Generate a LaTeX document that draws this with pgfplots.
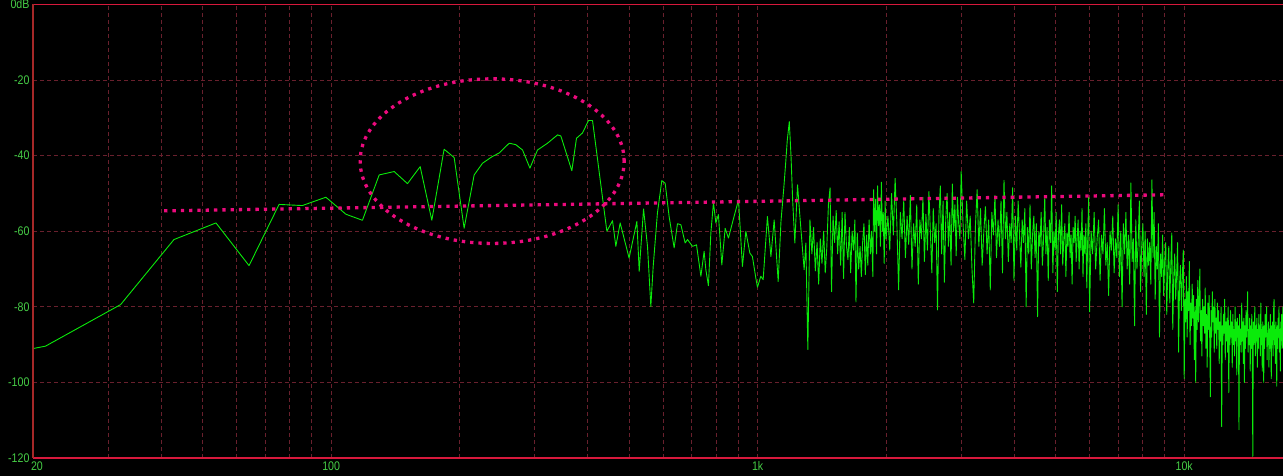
\documentclass[border=0pt]{standalone}
\usepackage{fontspec}
\setmainfont{Liberation Sans}[FakeStretch=0.85]
\usepackage{pgfplots}
\pgfplotsset{compat=1.18}
\definecolor{gridc}{RGB}{105,32,45}
\definecolor{framec}{RGB}{215,25,60}
\definecolor{leftc}{RGB}{165,40,40}
\definecolor{specg}{RGB}{10,235,10}
\definecolor{labg}{RGB}{70,205,70}
\definecolor{pinkc}{RGB}{235,10,125}
\begin{document}
\begin{tikzpicture}
\fill[black] (0,0) rectangle (1283pt,476pt);
\useasboundingbox (0,0) rectangle (1283pt,476pt);
\begin{axis}[
  at={(33pt,18pt)}, anchor=south west,
  scale only axis, width=1250pt, height=453.5pt,
  xmode=log, xmin=20, xmax=17050, ymin=-120, ymax=0,
  clip mode=individual,
  axis line style={draw=none},
  tick style={draw=none},
  xtick={20,100,1000,10000},
  xticklabels={\makebox[0pt][l]{\hspace{-2pt}20},100,1k,10k},
  minor xtick={30,40,50,60,70,80,90,200,300,400,500,600,700,800,900,2000,3000,4000,5000,6000,7000,8000,9000},
  ytick={-120,-100,-80,-60,-40,-20,0},
  yticklabels={-120,-100,-80,-60,-40,-20,0dB},
  grid=both,
  major grid style={gridc, line width=1pt, dash pattern=on 4pt off 3pt},
  minor grid style={gridc, line width=1pt, dash pattern=on 4pt off 3pt},
  ticklabel style={font=\fontsize{12.5}{13}\selectfont, text=labg},
  yticklabel style={anchor=east},
  xticklabel style={anchor=north},
]
\addplot[specg, line width=0.9pt, line join=round, mark=none] table {
10.77 -96.9
21.4 -90.4
32.1 -79.4
42.8 -62.2
53.7 -57.8
64.2 -69.1
75.5 -52.9
85.6 -53.2
97.2 -51.0
108.3 -55.5
118.4 -57.1
129.6 -45.1
140.5 -44.2
151 -47.4
161.7 -42.9
172.2 -57.1
184 -38.3
194.3 -40.5
205 -59.2
216.4 -45.1
226.4 -42.0
238.9 -40.2
247.7 -39.3
261.5 -36.7
271 -37.1
281 -38.5
292.4 -43.3
304.7 -38.5
321.6 -36.7
339.5 -34.5
345.6 -34.8
366.7 -44.0
376 -35.4
388.4 -34.0
401.2 -30.7
410 -30.7
443 -60.0
456.7 -57.2
465 -64.0
476 -57.8
499.5 -67.1
520.9 -57.4
527.5 -70.6
540 -54.1
551.7 -64.0
561.7 -79.9
568.9 -69.3
582 -55.2
596 -46.6
606.9 -47.3
620 -56.1
637 -64.4
648.6 -58.0
660.7 -58.3
676 -63.1
684.7 -62.2
703.4 -64.0
718.8 -63.6
736 -71.9
749 -65.3
756 -70.2
766.6 -74.4
776.7 -60.5
787.7 -52.4
798 -57.8
809 -55.6
824 -68.9
839 -59.2
854 -61.8
876 -57.0
901.6 -51.7
921 -69.3
938 -60.0
958.7 -65.8
972 -66.7
990 -72.4
998.9 -74.8
1017 -71.9
1030 -72.8
1054 -56.1
1074 -66.7
1093 -57.0
1117 -73.3
1134 -57.4
1152 -48.2
1163 -42.0
1173 -36.0
1186 -31.0
1197 -40.0
1208 -52.0
1222 -63.1
1240 -47.7
1256 -56.1
1285 -70.2
1297 -63.1
1311 -91.3
1326 -57.0
1340 -66.0
1352 -59.0
1365 -70.5
1378 -63.0
1390 -74.0
1402 -62.0
1415 -68.5
1428 -60.0
1440 -71.0
1452 -64.5
1465 -53.0
1478 -48.5
1490 -76.0
1502 -56.0
1515 -63.0
1528 -54.5
1540 -66.0
1552 -57.5
1565 -69.0
1578 -55.0
1590 -72.5
1602 -55.0
1615 -64.0
1628 -67.5
1640 -59.0
1652 -71.0
1665 -60.0
1678 -65.0
1690 -57.0
1700 -78.7
1712 -60.5
1725 -70.0
1738 -64.0
1750 -72.0
1762 -63.0
1775 -58.0
1788 -71.5
1800 -61.0
1812 -69.0
1825 -57.0
1838 -66.0
1850 -60.0
1862 -72.0
1870 -49.0
1880 -60.0
1890 -51.5
1900 -66.0
1910 -48.0
1920 -58.5
1930 -53.0
1940 -64.0
1950 -47.0
1960 -60.0
1970 -55.0
1980 -68.5
1990 -52.0
2000 -62.0
2020 -56.0
2040 -65.0
2060 -50.0
2080 -61.0
2100 -46.0
2120 -58.0
2140 -75.5
2160 -55.0
2180 -62.0
2200 -52.0
2220 -67.0
2240 -56.0
2260 -63.5
2280 -50.5
2300 -70.0
2320 -58.0
2340 -64.0
2360 -53.0
2380 -74.0
2400 -57.0
2420 -62.0
2440 -51.0
2460 -68.0
2480 -55.5
2500 -65.0
2520 -49.5
2540 -60.0
2560 -71.0
2580 -54.0
2600 -63.0
2620 -58.0
2640 -80.8
2660 -56.0
2680 -48.0
2700 -66.0
2720 -52.0
2740 -73.5
2760 -57.0
2780 -50.0
2800 -64.0
2820 -55.0
2840 -69.0
2860 -47.5
2880 -60.0
2900 -53.0
2920 -66.5
2940 -51.0
2960 -58.0
2980 -62.0
3000 -44.2
3030 -58.0
3060 -67.5
3090 -52.0
3120 -62.0
3150 -56.0
3180 -70.0
3210 -79.0
3240 -58.5
3270 -49.0
3300 -64.0
3330 -54.0
3360 -69.0
3390 -60.0
3420 -53.5
3450 -66.0
3480 -57.0
3510 -75.5
3540 -55.0
3570 -61.0
3600 -50.5
3630 -67.0
3660 -57.0
3690 -64.0
3720 -52.0
3750 -71.0
3780 -46.5
3810 -62.0
3840 -55.0
3870 -68.0
3900 -58.0
3930 -63.0
3960 -48.5
3990 -73.0
4020 -56.0
4050 -65.0
4080 -52.0
4110 -61.0
4140 -69.5
4170 -57.0
4200 -63.0
4230 -54.0
4260 -80.0
4290 -59.0
4320 -66.0
4350 -53.0
4380 -70.0
4410 -61.0
4440 -56.0
4470 -67.0
4500 -58.0
4530 -82.6
4560 -60.0
4590 -64.0
4620 -55.0
4650 -69.0
4680 -62.0
4710 -51.0
4740 -66.0
4770 -59.0
4800 -73.0
4830 -57.0
4860 -63.0
4890 -48.0
4920 -71.0
4950 -60.0
4980 -65.0
5010 -55.0
5040 -76.0
5070 -61.0
5100 -57.0
5130 -66.0
5160 -53.0
5190 -69.0
5220 -62.0
5250 -58.0
5280 -72.0
5310 -60.5
5340 -64.0
5370 -55.0
5400 -67.0
5430 -61.0
5460 -74.0
5490 -59.0
5520 -63.0
5550 -56.0
5580 -68.0
5610 -62.0
5640 -57.0
5670 -70.0
5700 -60.0
5730 -65.0
5760 -54.0
5790 -72.0
5820 -61.0
5850 -66.0
5880 -58.0
5910 -75.0
5940 -62.0
5970 -51.0
6000 -81.3
6050 -60.0
6100 -66.0
6150 -55.0
6200 -70.0
6250 -62.0
6300 -57.0
6350 -73.0
6400 -61.0
6450 -66.0
6500 -54.0
6550 -69.0
6600 -63.0
6650 -77.0
6700 -60.0
6750 -65.0
6800 -56.0
6850 -71.0
6900 -62.0
6950 -67.0
7000 -53.0
7050 -72.0
7100 -60.0
7150 -80.0
7200 -58.0
7250 -66.0
7300 -55.0
7350 -70.0
7400 -61.0
7450 -74.0
7500 -47.2
7550 -68.0
7600 -62.0
7650 -85.0
7700 -57.0
7750 -70.0
7800 -63.0
7850 -52.0
7900 -76.0
7950 -64.0
8000 -58.0
8050 -72.0
8100 -60.0
8150 -82.0
8200 -62.0
8250 -69.0
8300 -63.0
8350 -74.0
8400 -46.4
8450 -67.0
8500 -55.0
8550 -78.0
8600 -64.0
8650 -70.0
8700 -58.0
8750 -88.0
8800 -66.0
8850 -72.0
8900 -61.0
8950 -77.0
9000 -68.0
9050 -63.0
9100 -82.0
9150 -70.0
9200 -64.0
9250 -79.0
9300 -69.0
9350 -60.5
9400 -86.0
9450 -72.0
9500 -66.0
9550 -78.0
9600 -71.0
9650 -63.0
9700 -92.0
9750 -74.0
9800 -69.0
9850 -81.0
9900 -72.0
9950 -65.0
10000 -99.0
10040 -78
10080 -84
10120 -72
10160 -88
10200 -76
10240 -81
10280 -68
10320 -90
10360 -79
10400 -85
10440 -74
10480 -83
10520 -77
10560 -94
10600 -80
10640 -100
10680 -78
10720 -86
10760 -73
10800 -84
10840 -79
10880 -70
10920 -89
10960 -81
11000 -93
11040 -78
11080 -85
11120 -80
11160 -87
11200 -75
11240 -91
11280 -82
11320 -96
11360 -79
11400 -86
11440 -77
11480 -90
11520 -103.8
11560 -81
11600 -88
11640 -76
11680 -84
11720 -80
11760 -92
11800 -78
11840 -87
11880 -83
11920 -91
11960 -79
12000 -86
12040 -81
12080 -95
12120 -84
12160 -89
12200 -80
12240 -111.7
12280 -85
12320 -90
12360 -82
12400 -87
12440 -78
12480 -94
12520 -84
12560 -89
12600 -83
12640 -92
12680 -80
12720 -102.7
12760 -85
12800 -90
12840 -81
12880 -88
12920 -84
12960 -96
13000 -82
13040 -90
13080 -86
13120 -93
13160 -80
13200 -89
13240 -84
13280 -98
13320 -83
13360 -88
13400 -85
13440 -112.5
13480 -82
13520 -90
13560 -86
13600 -92
13640 -79
13680 -89
13720 -84
13760 -95
13800 -83
13840 -100
13880 -85
13920 -91
13960 -81
14000 -88
14040 -84
14080 -76
14120 -92
14160 -86
14200 -90
14240 -83
14280 -97
14320 -85
14360 -91
14400 -82
14440 -89
14480 -119.6
14520 -84
14560 -90
14600 -86
14640 -80
14680 -93
14720 -85
14760 -89
14800 -83
14840 -96
14880 -86
14920 -91
14960 -82
15000 -88
15040 -85
15080 -93
15120 -79
15160 -90
15200 -86
15240 -97
15280 -84
15320 -89
15360 -100
15400 -85
15440 -91
15480 -82
15520 -88
15560 -86
15600 -80
15640 -94
15680 -87
15720 -90
15760 -84
15800 -96
15840 -86
15880 -91
15920 -82
15960 -89
16000 -99
16040 -85
16080 -90
16120 -84
16160 -93
16200 -81
16240 -78
16280 -90
16320 -86
16360 -95
16400 -84
16440 -89
16480 -101
16520 -85
16560 -91
16600 -83
16640 -88
16680 -80
16720 -92
16760 -86
16800 -97
16840 -84
16880 -89
16920 -82
16960 -91
17000 -86
17040 -80
17080 -90
17120 -95
};
\addplot[pinkc, line width=3.3pt, dash pattern=on 3.3pt off 5pt, mark=none] coordinates {(40.6,-54.6) (9077,-50.35)};
\draw[pinkc, line width=3.3pt, dash pattern=on 3.3pt off 5pt] (axis cs:238.5,-41.45) ellipse [x radius=132pt, y radius=82.3pt];
\draw[framec, line width=1.2pt] (rel axis cs:0,1) -- (rel axis cs:1,1);
\draw[framec, line width=1.2pt] (rel axis cs:0,0) -- (rel axis cs:1,0);
\draw[leftc, line width=1.2pt] (rel axis cs:0,0) -- (rel axis cs:0,1);
\end{axis}
\end{tikzpicture}
\end{document}
